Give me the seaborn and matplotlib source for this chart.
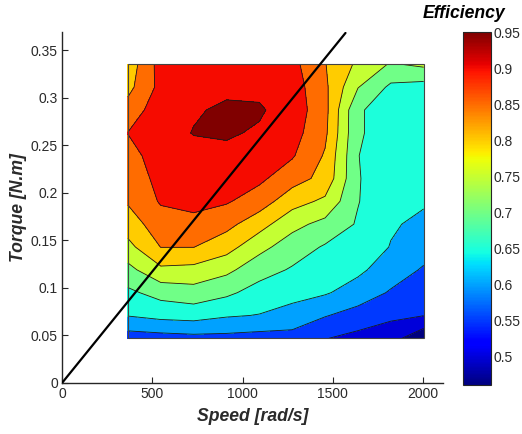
import numpy as np
import matplotlib
matplotlib.use("Agg")
import matplotlib.pyplot as plt
import seaborn as sns
from matplotlib.patches import Rectangle
from matplotlib.colors import Normalize
from matplotlib.cm import ScalarMappable

# measured grid of the efficiency map
speed = [365, 547, 729, 911, 1093, 1275, 1457, 1639, 1821, 2003]
torque = [0.047, 0.071, 0.095, 0.119, 0.143, 0.167, 0.191, 0.215, 0.239,
          0.263, 0.287, 0.311, 0.335]

# efficiency per torque row (speed goes left -> right)
eff_t047 = [0.575, 0.580, 0.585, 0.585, 0.580, 0.585, 0.552, 0.535, 0.520, 0.461]
eff_t071 = [0.652, 0.665, 0.670, 0.655, 0.648, 0.625, 0.603, 0.580, 0.560, 0.551]
eff_t095 = [0.690, 0.718, 0.730, 0.710, 0.680, 0.672, 0.655, 0.628, 0.595, 0.575]
eff_t119 = [0.735, 0.790, 0.785, 0.762, 0.720, 0.695, 0.675, 0.660, 0.625, 0.595]
eff_t143 = [0.785, 0.851, 0.851, 0.820, 0.765, 0.725, 0.695, 0.680, 0.648, 0.620]
eff_t167 = [0.825, 0.877, 0.885, 0.865, 0.820, 0.765, 0.735, 0.695, 0.655, 0.640]
eff_t191 = [0.855, 0.905, 0.915, 0.905, 0.875, 0.820, 0.790, 0.702, 0.665, 0.655]
eff_t215 = [0.870, 0.915, 0.925, 0.925, 0.910, 0.870, 0.835, 0.703, 0.670, 0.660]
eff_t239 = [0.885, 0.920, 0.935, 0.940, 0.930, 0.905, 0.845, 0.701, 0.675, 0.665]
eff_t263 = [0.901, 0.930, 0.952, 0.955, 0.945, 0.920, 0.860, 0.705, 0.680, 0.670]
eff_t287 = [0.870, 0.930, 0.945, 0.958, 0.955, 0.930, 0.865, 0.705, 0.680, 0.675]
eff_t311 = [0.835, 0.915, 0.935, 0.940, 0.940, 0.925, 0.860, 0.752, 0.690, 0.680]
eff_t335 = [0.820, 0.920, 0.925, 0.930, 0.925, 0.915, 0.852, 0.790, 0.745, 0.760]

# straight operating line from the origin
line_speed = [0, 1570]
line_torque = [0, 0.368]

levels = [0.44, 0.50, 0.55, 0.60, 0.65, 0.70, 0.75, 0.80, 0.85, 0.90, 0.95, 0.97]
cbar_ticks = [0.5, 0.55, 0.6, 0.65, 0.7, 0.75, 0.8, 0.85, 0.9, 0.95]
cbar_labels = ["0.5", "0.55", "0.6", "0.65", "0.7", "0.75", "0.8", "0.85", "0.9", "0.95"]
x_ticks = [0, 500, 1000, 1500, 2000]
y_ticks = [0, 0.05, 0.1, 0.15, 0.2, 0.25, 0.3, 0.35]
y_labels = ["0", "0.05", "0.1", "0.15", "0.2", "0.25", "0.3", "0.35"]

Z = np.array([eff_t047, eff_t071, eff_t095, eff_t119, eff_t143, eff_t167,
              eff_t191, eff_t215, eff_t239, eff_t263, eff_t287, eff_t311, eff_t335])

sns.set_style("ticks")
plt.rcParams["font.family"] = ["Liberation Sans", "DejaVu Sans"]
text_col = "#2a2a2a"

cmap = plt.get_cmap("jet")
norm = Normalize(vmin=0.461, vmax=0.951)
# matlab style: each band takes the colour of its lower level
fill_colors = [cmap(norm(max(lv, 0.461))) for lv in levels[:-1]]

fig = plt.figure(figsize=(5.22, 4.34), dpi=100)
ax = fig.add_axes([62 / 522, 51 / 434, 381 / 522, 351 / 434])

ax.contourf(speed, torque, Z, levels=levels, colors=fill_colors)
ax.contour(speed, torque, Z, levels=levels[1:-1], colors="#1a1a1a", linewidths=0.6)
ax.add_patch(Rectangle((speed[0], torque[0]), speed[-1] - speed[0], torque[-1] - torque[0],
                       fill=False, edgecolor="#444444", linewidth=0.8, zorder=3))
sns.lineplot(x=line_speed, y=line_torque, color="black", linewidth=1.6,
             estimator=None, ax=ax, zorder=4)

ax.set_xlim(0, 2110)
ax.set_ylim(0, 0.369)
ax.set_xticks(x_ticks)
ax.set_xticklabels([str(v) for v in x_ticks])
ax.set_yticks(y_ticks)
ax.set_yticklabels(y_labels)
ax.tick_params(direction="in", length=4, width=0.8, labelsize=10, labelcolor=text_col, pad=3)
sns.despine(ax=ax)
ax.spines["left"].set_linewidth(1.0)
ax.spines["bottom"].set_linewidth(1.0)

ax.set_xlabel("Speed [rad/s]", fontsize=12.7, fontweight="bold", fontstyle="italic",
              color=text_col, labelpad=5)
ax.set_ylabel("Torque [N.m]", fontsize=12.7, fontweight="bold", fontstyle="italic",
              color=text_col, labelpad=3)

cax = fig.add_axes([463 / 522, 49 / 434, 28 / 522, 353 / 434])
cb = fig.colorbar(ScalarMappable(norm=norm, cmap=cmap), cax=cax)
cb.set_ticks(cbar_ticks)
cb.set_ticklabels(cbar_labels)
cb.outline.set_linewidth(0.8)
cax.tick_params(direction="in", length=3, width=0.6, left=True, right=True,
                labelsize=10, labelcolor=text_col, pad=2)
fig.text(464 / 522, 1 - 14 / 434, "Efficiency", ha="center", va="center",
         fontsize=12.7, fontweight="bold", fontstyle="italic", color="black")

fig.savefig("out.png", dpi=100)
